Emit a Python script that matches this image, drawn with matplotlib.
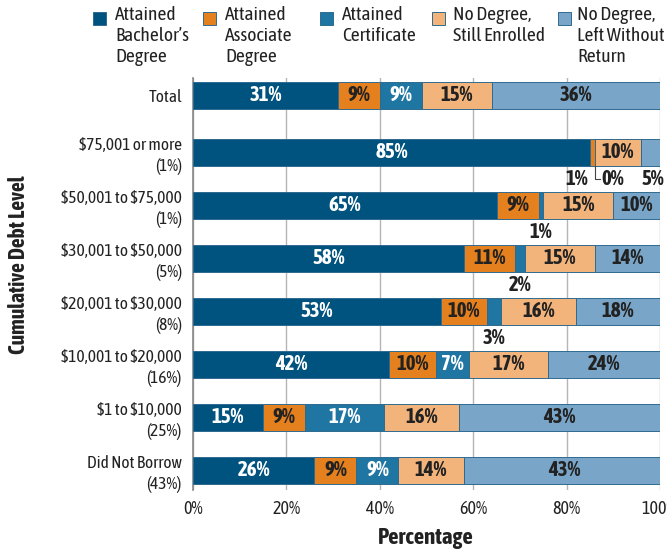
import matplotlib
matplotlib.use("Agg")
import matplotlib.pyplot as plt
from matplotlib.patches import Rectangle
from matplotlib import font_manager

# narrow font with a real bold face if one is around, else DejaVu condensed
weights = {}
for f in font_manager.fontManager.ttflist:
    if "Narrow" in f.name or "Condensed" in f.name:
        w = f.weight if isinstance(f.weight, int) else font_manager.weight_dict.get(f.weight, 400)
        weights.setdefault(f.name, set()).add(w)
narrow = [n for n, ws in weights.items() if 400 in ws and max(ws) >= 700]
plt.rcParams['font.family'] = narrow[:1] + ['DejaVu Sans']
plt.rcParams['font.stretch'] = 'condensed'
plt.rcParams['text.parse_math'] = False

# data (percent)
categories = ["Total", "$75,001 or more\n(1%)", "$50,001 to $75,000\n(1%)",
              "$30,001 to $50,000\n(5%)", "$20,001 to $30,000\n(8%)",
              "$10,001 to $20,000\n(16%)", "$1 to $10,000\n(25%)",
              "Did Not Borrow\n(43%)"]
series = ["Attained\nBachelor\u2019s\nDegree", "Attained\nAssociate\nDegree",
          "Attained\nCertificate", "No Degree,\nStill Enrolled",
          "No Degree,\nLeft Without\nReturn"]
bachelor = [31, 85, 65, 58, 53, 42, 15, 26]
associate = [9, 1, 9, 11, 10, 10, 9, 9]
certificate = [9, 0, 1, 2, 3, 7, 17, 9]
enrolled = [15, 10, 15, 15, 16, 17, 16, 14]
left = [36, 5, 10, 14, 18, 24, 43, 43]

colors = ["#00537f", "#e5801e", "#1f76a3", "#f3b47c", "#79a6c8"]
text_colors = ["white", "#222222", "white", "#222222", "#222222"]

W, H = 667, 551
fig = plt.figure(figsize=(6.67, 5.51), dpi=100)
ax = fig.add_axes([193/W, 61/H, 467/W, 412/H])

# Total row sits a bit further away from the rest
ypos = [0] + [1.075 + i for i in range(len(categories) - 1)]
h = 0.51
lab_kw = dict(fontsize=15, fontweight="bold", va="center")

all_vals = [bachelor, associate, certificate, enrolled, left]
starts = [0] * len(categories)
for s, vals in enumerate(all_vals):
    ax.barh(ypos, vals, left=starts, height=h, color=colors[s],
            edgecolor="#2f6a90", linewidth=0.7, zorder=3)
    for i, v in enumerate(vals):
        x = starts[i] + v / 2
        below = ypos[i] + 0.5
        if v >= 7:
            ax.text(x, ypos[i], f"{v}%", ha="center", color=text_colors[s],
                    zorder=4, **lab_kw)
        elif i == 1 and s == 1:
            # the crowded $75,001 row
            ax.text(starts[i] - 0.3, below, f"{v}%", ha="right", color="#222222", **lab_kw)
        elif i == 1 and s == 2:
            ax.plot([x, x, x + 1.2], [ypos[i] + h/2, below, below],
                    color="#444444", lw=0.8, zorder=4)
            ax.text(x + 1.5, below, f"{v}%", ha="left", color="#222222", **lab_kw)
        else:
            ax.text(x, below, f"{v}%", ha="center", color="#222222", **lab_kw)
        starts[i] += v

ax.set_xlim(0, 100)
ax.set_ylim(ypos[-1] + 0.37, -0.33)
ax.set_xticks([0, 20, 40, 60, 80, 100])
ax.set_xticklabels(["0%", "20%", "40%", "60%", "80%", "100%"])
ax.set_yticks(ypos)
ax.set_yticklabels(categories, linespacing=1.25)
ax.tick_params(axis="both", length=0, labelsize=12.5, colors="#222222")
ax.tick_params(axis="x", labelsize=13, pad=7)
ax.tick_params(axis="y", pad=8)
for lab in ax.get_yticklabels():
    lab.set_horizontalalignment("right")
    lab.set_multialignment("right")

for sp in ["top", "right", "bottom"]:
    ax.spines[sp].set_visible(False)
ax.spines["left"].set_color("#888888")
ax.spines["left"].set_linewidth(1.2)
ax.xaxis.grid(True, color="#b5b5b5", linewidth=1.0, zorder=0)
ax.set_axisbelow(True)

fig.text(426 / W, 1 - 538 / H, "Percentage", ha="center", va="center",
         fontsize=16.5, fontweight="bold", color="#222222")
fig.text(19 / W, 1 - 265 / H, "Cumulative Debt Level", ha="center", va="center",
         rotation=90, fontsize=15.5, fontweight="bold", color="#222222")

# legend drawn across the top
sq_x = [93, 203, 320, 432, 558]
tx_x = [115, 225, 342, 453, 577]
for s in range(len(series)):
    fig.patches.append(Rectangle((sq_x[s] / W, 1 - 25 / H), 13 / W, 13 / H,
                                 transform=fig.transFigure, facecolor=colors[s],
                                 edgecolor="#2f6a90", linewidth=0.7))
    fig.text(tx_x[s] / W, 1 - 6 / H, series[s], ha="left", va="top",
             fontsize=14, color="#222222", linespacing=1.2)

fig.savefig("out.png", dpi=100)
